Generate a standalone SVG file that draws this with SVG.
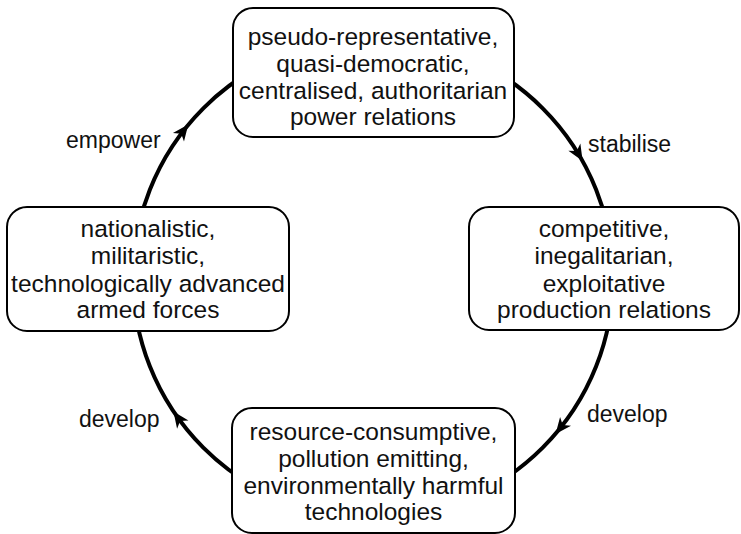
<svg xmlns="http://www.w3.org/2000/svg" width="741" height="534" viewBox="0 0 741 534">
<style>
.box{fill:#fff;stroke:#000;stroke-width:2}
.t{font-family:"Liberation Sans",Arial,sans-serif;font-size:24.5px;fill:#111;text-anchor:middle}
.lbl{font-family:"Liberation Sans",Arial,sans-serif;font-size:23px;fill:#111}
.ring{fill:none;stroke:#000;stroke-width:4}
</style>
<defs>
<polygon id="ah" points="613,286 606,270 613,274.5 620,270" fill="#000"/>
</defs>
<rect width="741" height="534" fill="#fff"/>
<g id="connectors">
<circle class="ring" cx="373" cy="278" r="240"/>
<use href="#ah" transform="rotate(217.8 373 278)"/>
<use href="#ah" transform="rotate(328.9 373 278)"/>
<use href="#ah" transform="rotate(38.6 373 278)"/>
<use href="#ah" transform="rotate(144.3 373 278)"/>
<text class="lbl" x="66" y="148">empower</text>
<text class="lbl" x="588" y="152">stabilise</text>
<text class="lbl" x="587" y="422">develop</text>
<text class="lbl" x="79" y="427">develop</text>
</g>
<g id="power">
<rect class="box" x="233" y="8" width="281" height="129" rx="20"/>
<text class="t" x="373" y="45">pseudo-representative,</text>
<text class="t" x="373" y="72">quasi-democratic,</text>
<text class="t" x="373" y="99">centralised, authoritarian</text>
<text class="t" x="373" y="125">power relations</text>
</g>
<g id="production">
<rect class="box" x="469" y="207" width="270" height="123" rx="20"/>
<text class="t" x="604" y="237">competitive,</text>
<text class="t" x="604" y="264">inegalitarian,</text>
<text class="t" x="604" y="292">exploitative</text>
<text class="t" x="604" y="318">production relations</text>
</g>
<g id="technologies">
<rect class="box" x="232" y="408" width="283" height="125" rx="20"/>
<text class="t" x="373.5" y="440">resource-consumptive,</text>
<text class="t" x="373.5" y="467">pollution emitting,</text>
<text class="t" x="373.5" y="494">environmentally harmful</text>
<text class="t" x="373.5" y="520">technologies</text>
</g>
<g id="forces">
<rect class="box" x="7" y="207" width="282" height="124" rx="20"/>
<text class="t" x="148" y="237">nationalistic,</text>
<text class="t" x="148" y="264">militaristic,</text>
<text class="t" x="148" y="292">technologically advanced</text>
<text class="t" x="148" y="318">armed forces</text>
</g>
</svg>
